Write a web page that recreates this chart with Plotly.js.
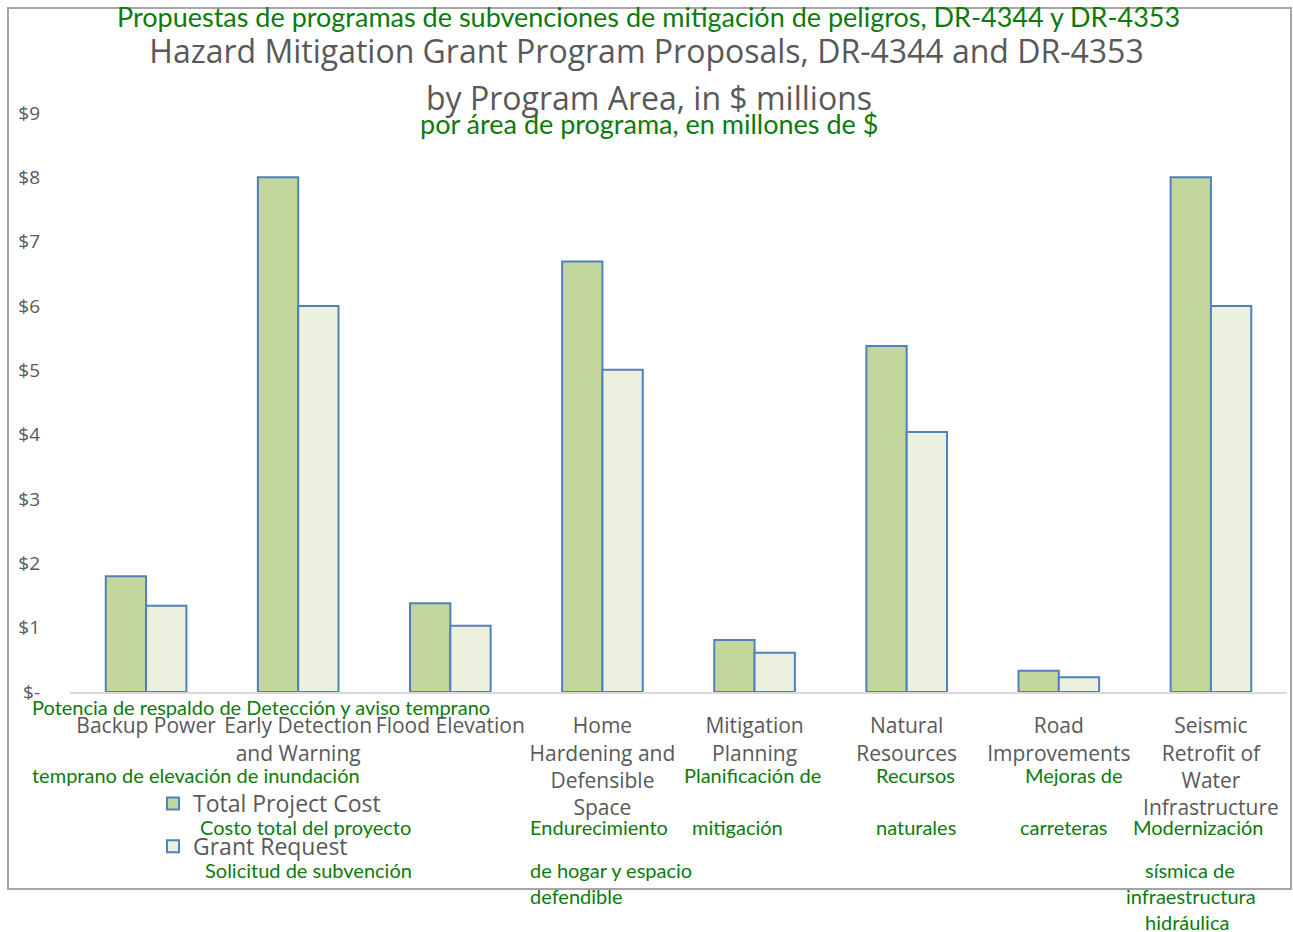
<!DOCTYPE html>
<html><head><meta charset="utf-8">
<script src="https://cdn.plot.ly/plotly-3.0.1.min.js"></script>
<style>html,body{margin:0;padding:0;background:#fff}#chart{width:1293px;height:932px}</style>
</head><body><div id="chart"></div>
<script>
const categories = ["Backup Power","Early Detection and Warning","Flood Elevation","Home Hardening and Defensible Space","Mitigation Planning","Natural Resources","Road Improvements","Seismic Retrofit of Water Infrastructure"];
const tickLabels = ["Backup Power","Early Detection<br>and Warning","Flood Elevation","Home<br>Hardening and<br>Defensible<br>Space","Mitigation<br>Planning","Natural<br>Resources","Road<br>Improvements","Seismic<br>Retrofit of<br>Water<br>Infrastructure"];
const totalProjectCost = [1.80, 8.00, 1.38, 6.69, 0.81, 5.38, 0.33, 8.00];
const grantRequest = [1.34, 6.00, 1.03, 5.01, 0.61, 4.04, 0.23, 6.00];
const seriesNames = ["Total Project Cost", "Grant Request"];
const yTickVals = [0,1,2,3,4,5,6,7,8,9];
const yTickText = ["$-","$1","$2","$3","$4","$5","$6","$7","$8","$9"];
const spanishTitle = "Propuestas de programas de subvenciones de mitigación de peligros, DR-4344 y DR-4353";
const englishTitle = "Hazard Mitigation Grant Program Proposals, DR-4344 and DR-4353";
const englishSubtitle = "by Program Area, in $ millions";
const spanishSubtitle = "por área de programa, en millones de $";
const spanishLabels = ["Potencia de respaldo de Detección y aviso temprano","temprano de elevación de inundación","Costo total del proyecto","Solicitud de subvención","Endurecimiento","de hogar y espacio","defendible","Planificación de","mitigación","Recursos","naturales","Mejoras de","carreteras","Modernización","sísmica de","infraestructura","hidráulica"];

// layout positions (pixels: left x, centre y) for the overlaid Spanish labels
const labelPos = [[30,707],[30,775],[198,827],[203,870],[528,827],[528,870],[528,896],[682,775],[690,827],[874,775],[874,827],[1023,775],[1018,827],[1131,827],[1143,870],[1124,896],[1143,922]];

const L = 70, R = 1287, T = 113, B = 692;
const PX = x => (x - L) / (R - L);
const PY = y => (B - y) / (B - T);
const GRAY = '#595959', GREEN = '#0B7B0B';
const GF = 'Lato, sans-serif', OF = '"Open Sans", sans-serif';

const traces = [
  {type:'bar', name:seriesNames[0], x:categories, y:totalProjectCost, legendgroup:'a',
   marker:{color:'#C3D69B', line:{color:'#4F81BD', width:2}}, hoverinfo:'skip'},
  {type:'bar', name:seriesNames[1], x:categories, y:grantRequest, legendgroup:'b',
   marker:{color:'#EBF1DE', line:{color:'#4F81BD', width:2}}, hoverinfo:'skip'}
];

const annotations = [
  {text:spanishTitle, x:PX(648), y:PY(16), font:{family:GF, size:27, color:GREEN}},
  {text:englishSubtitle, x:PX(649), y:PY(98), font:{family:OF, size:32, color:GRAY}},
  {text:spanishSubtitle, x:PX(649), y:PY(123), font:{family:GF, size:27, color:GREEN}}
].map(a => Object.assign({xref:'paper', yref:'paper', showarrow:false, xanchor:'center', yanchor:'middle'}, a));

spanishLabels.forEach((t, i) => {
  annotations.push({text:t, xref:'paper', yref:'paper', x:PX(labelPos[i][0]), y:PY(labelPos[i][1]),
    xanchor:'left', yanchor:'middle', showarrow:false, font:{family:GF, size:20, color:GREEN}});
});

const layout = {
  width:1293, height:932,
  margin:{l:L, r:1293-R, t:T, b:932-B, pad:0},
  paper_bgcolor:'#fff', plot_bgcolor:'#fff',
  title:{text:englishTitle, font:{family:OF, size:32, color:GRAY}, x:0.5, xref:'container', y:1-52/932, yref:'container', yanchor:'middle'},
  barmode:'group', bargap:0.47, bargroupgap:0,
  xaxis:{type:'category', tickmode:'array', tickvals:categories, ticktext:tickLabels, range:[-0.5,7.5],
    tickfont:{family:OF, size:21, color:GRAY}, showline:true, linecolor:'#D9D9D9', linewidth:2,
    ticks:'', showgrid:false, zeroline:false, ticklabelstandoff:14, tickangle:0, fixedrange:true},
  yaxis:{range:[0,9], tickmode:'array', tickvals:yTickVals, ticktext:yTickText,
    tickfont:{family:OF, size:19, color:GRAY}, showgrid:false, zeroline:false, showline:false,
    ticks:'', ticklabelstandoff:29, fixedrange:true},
  legend:{orientation:'v', x:PX(153), y:PY(782), xanchor:'left', yanchor:'top', traceorder:'grouped', tracegroupgap:10,
    font:{family:OF, size:23, color:GRAY}, bgcolor:'rgba(0,0,0,0)', itemclick:false, itemdoubleclick:false},
  shapes:[{type:'rect', xref:'paper', yref:'paper', x0:PX(8), x1:PX(1291), y0:PY(889), y1:PY(8),
    line:{color:'#A6A6A6', width:2}, fillcolor:'rgba(0,0,0,0)', layer:'below'}],
  annotations:annotations,
  showlegend:true
};

Plotly.newPlot('chart', traces, layout, {displayModeBar:false, staticPlot:true});
</script></body></html>
